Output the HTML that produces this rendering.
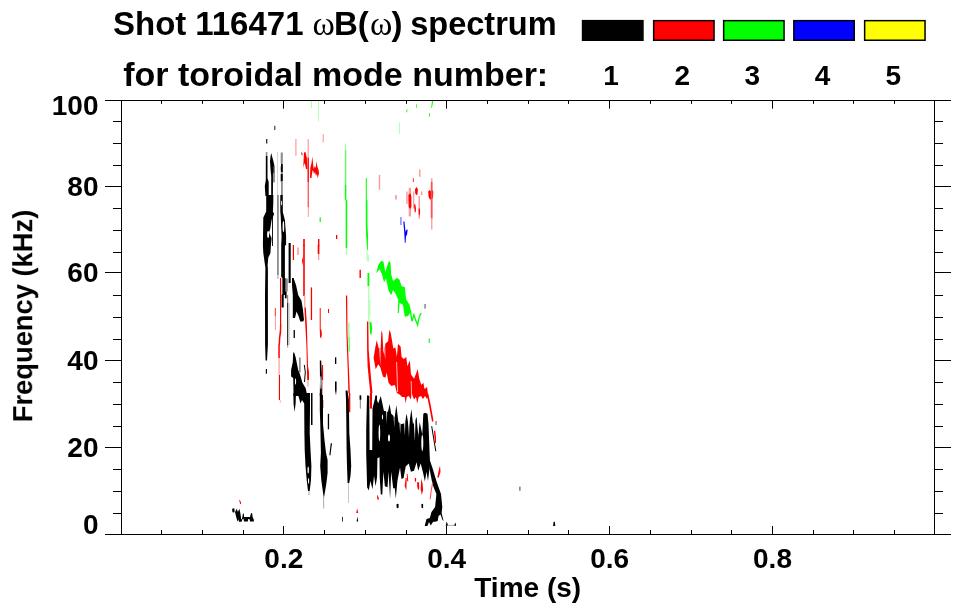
<!DOCTYPE html>
<html><head><meta charset="utf-8"><title>Shot 116471 spectrum</title>
<style>
html,body{margin:0;padding:0;background:#fff;}
body{width:963px;height:615px;overflow:hidden;font-family:"Liberation Sans",sans-serif;}
svg{display:block;}
text{font-family:"Liberation Sans",sans-serif;font-weight:bold;fill:#000;}
.sym{font-family:"Liberation Serif",serif;font-weight:normal;}
.ax{stroke:#000;stroke-width:1;fill:none;}
</style></head><body>
<svg width="963" height="615" viewBox="0 0 963 615">
<rect x="0" y="0" width="963" height="615" fill="#fff"/>
<g id="data">
<rect fill="#000" x="274.4" y="125.8" width="0.9" height="4.2"/>
<rect fill="#000" x="266.2" y="139.0" width="1.1" height="4.5"/>
<rect fill="#8c8c8c" x="265.8" y="152.1" width="1.6" height="3.9"/>
<polygon fill="#000" points="265.8,156.0 267.5,156.0 267.5,178.0 268.7,182.0 268.7,196.0 265.4,196.0 264.8,186.0 265.8,180.0"/>
<polygon fill="#000" points="271.2,152.9 272.0,156.0 273.6,162.0 274.5,166.6 274.6,173.0 273.0,178.0 272.9,196.0 271.2,196.0 271.2,176.0 270.6,170.0 270.0,161.6 270.6,156.0"/>
<rect fill="#8c8c8c" x="272.9" y="166.6" width="2.0" height="15.8"/>
<rect fill="#000" x="272.0" y="166.6" width="1.6" height="6.4"/>
<polygon fill="#000" points="266.2,195.0 273.3,195.0 273.3,203.3 272.9,211.6 274.1,214.1 271.6,220.0 270.4,228.2 269.1,232.4 271.6,238.2 270.9,245.0 270.4,253.3 268.3,257.5 267.6,265.8 267.9,268.3 267.9,345.0 267.0,360.4 265.6,360.4 265.1,345.0 265.0,295.0 265.4,268.0 263.3,253.0 262.9,245.0 263.3,217.4 266.2,211.6"/>
<ellipse fill="#fff" cx="268.1" cy="234.5" rx="1.0" ry="3.4"/>
<rect fill="#000" x="272.0" y="211.6" width="0.9" height="34.4"/>
<rect fill="#000" x="265.8" y="369.0" width="1.2" height="4.7"/>
<rect fill="#c4c4c4" x="277.0" y="152.1" width="0.7" height="42.9"/>
<rect fill="#8c8c8c" x="277.0" y="195.0" width="1.8" height="80.0"/>
<rect fill="#c4c4c4" x="277.0" y="275.0" width="1.6" height="4.0"/>
<rect fill="#8c8c8c" x="280.7" y="152.5" width="2.1" height="10.8"/>
<polygon fill="#000" points="281.2,163.3 282.8,164.0 282.8,172.4 281.0,172.4 280.7,168.0"/>
<rect fill="#8c8c8c" x="280.9" y="172.4" width="1.7" height="1.6"/>
<rect fill="#000" x="280.7" y="174.0" width="2.1" height="7.5"/>
<rect fill="#8c8c8c" x="281.0" y="181.5" width="1.8" height="14.0"/>
<polygon fill="#000" points="280.3,195.0 282.8,195.0 282.8,212.0 284.9,220.0 286.1,236.0 286.1,245.0 284.9,245.5 284.9,278.0 286.6,279.0 286.6,295.0 283.7,295.0 283.7,307.5 281.6,307.5 281.6,295.0 282.4,294.0 282.4,278.0 281.2,277.0 281.2,245.0 281.6,236.5 280.7,216.0 280.3,211.6"/>
<ellipse fill="#fff" cx="283.4" cy="226.5" rx="0.8" ry="5.5"/>
<ellipse fill="#fff" cx="281.6" cy="203.0" rx="0.5" ry="2.5"/>
<rect fill="#8c8c8c" x="285.3" y="278.5" width="2.5" height="13.0"/>
<rect fill="#000" x="284.9" y="295.0" width="1.7" height="3.3"/>
<rect fill="#000" x="288.6" y="243.0" width="2.1" height="40.0"/>
<polygon fill="#000" points="292.0,278.0 293.6,278.0 296.0,285.0 298.2,295.0 301.5,300.8 303.0,310.0 304.0,320.0 303.0,321.6 300.3,321.6 298.5,316.0 296.5,311.6 295.5,316.0 294.9,318.0 292.8,318.0 292.8,295.0 292.0,285.0"/>
<rect fill="#333" x="287.0" y="303.0" width="1.2" height="42.0"/>
<rect fill="#8c8c8c" x="287.0" y="295.0" width="1.2" height="8.0"/>
<rect fill="#c4c4c4" x="288.2" y="303.0" width="1.4" height="42.0"/>
<rect fill="#000" x="293.6" y="330.0" width="1.3" height="8.0"/>
<rect fill="#8c8c8c" x="287.2" y="345.0" width="1.0" height="2.5"/>
<polygon fill="#000" points="293.2,352.5 294.2,352.5 295.7,357.5 298.2,370.0 299.9,374.0 302.3,382.4 305.7,388.2 307.3,396.0 293.6,396.0 293.2,378.0 291.1,376.5 291.1,370.0 292.8,362.0"/>
<rect fill="#8c8c8c" x="299.0" y="357.5" width="1.7" height="14.9"/>
<polyline fill="none" stroke="#000" stroke-width="1.0" points="304.3,365.0 305.3,372.0 304.5,382.0"/>
<ellipse fill="#fff" cx="295.5" cy="381.5" rx="0.6" ry="3.3"/>
<polygon fill="#000" points="319.8,360.4 321.2,360.4 321.9,375.0 321.9,396.0 319.8,396.0 320.0,380.0"/>
<ellipse fill="#fff" cx="320.9" cy="382.5" rx="0.6" ry="7.0"/>
<polygon fill="#000" points="293.3,393.0 296.0,393.0 295.6,404.0 294.5,412.0 293.6,404.0"/>
<polygon fill="#000" points="297.5,393.0 310.0,393.0 310.0,410.0 309.7,433.0 310.5,450.0 311.4,466.0 311.0,480.0 309.7,491.0 308.0,491.0 306.7,480.0 305.5,466.0 304.7,450.0 304.4,433.0 304.2,403.4 302.0,400.0 300.5,403.4 299.0,398.0"/>
<rect fill="#000" x="311.0" y="393.0" width="1.5" height="32.0"/>
<ellipse fill="#fff" cx="308.2" cy="470.0" rx="0.7" ry="3.5"/>
<ellipse fill="#fff" cx="308.6" cy="481.0" rx="0.6" ry="3.0"/>
<rect fill="#8c8c8c" x="308.6" y="491.0" width="0.8" height="4.0"/>
<polygon fill="#000" points="319.8,393.0 323.0,393.0 323.0,424.0 324.5,440.0 326.0,453.0 327.6,460.0 327.6,473.0 326.3,484.0 324.6,494.0 323.9,498.0 323.2,494.0 321.3,480.0 320.2,466.0 320.9,453.0 320.3,424.0 319.8,410.0"/>
<rect fill="#000" x="327.8" y="413.8" width="1.3" height="15.5"/>
<rect fill="#8c8c8c" x="323.4" y="497.0" width="0.7" height="11.5"/>
<polygon fill="#000" points="330.8,443.0 332.0,443.5 330.4,455.6 329.3,455.0"/>
<polygon fill="#000" points="345.6,390.5 347.5,390.5 348.9,400.0 349.3,433.0 350.5,450.0 351.2,466.0 350.5,476.0 349.2,483.0 347.6,483.0 347.0,466.0 346.6,450.0 346.3,420.0 346.0,400.0"/>
<rect fill="#c4c4c4" x="348.0" y="483.0" width="1.0" height="20.0"/>
<rect fill="#f00" x="348.9" y="393.0" width="1.4" height="19.2"/>
<rect fill="#8c8c8c" x="359.8" y="395.0" width="1.1" height="13.6"/>
<rect fill="#f00" x="369.9" y="393.0" width="2.1" height="15.6"/>
<polygon fill="#000" points="367.0,396.0 369.3,396.0 369.6,450.0 372.2,450.0 372.5,408.6 375.6,396.1 378.2,403.4 380.8,396.1 383.9,410.7 388.0,411.7 389.6,403.9 391.2,413.8 394.8,416.9 396.3,404.9 398.4,422.1 401.5,424.2 404.7,423.1 406.7,413.8 408.8,427.3 411.4,409.1 413.0,424.2 416.6,416.9 418.2,434.5 419.7,422.1 422.3,434.5 423.3,413.8 424.9,412.7 427.5,413.8 428.5,424.2 429.6,453.0 430.1,463.4 428.0,481.0 426.5,471.7 424.9,481.6 423.3,473.8 420.7,463.4 418.2,470.7 416.6,462.3 414.0,470.7 410.9,471.7 408.8,463.4 405.7,466.5 403.6,477.9 401.5,479.0 400.0,467.5 397.4,481.0 395.8,498.7 394.8,488.3 393.2,488.3 391.2,471.7 390.1,498.7 389.4,487.3 388.6,471.7 387.5,487.3 384.9,486.2 383.4,471.7 382.3,494.5 380.8,494.5 379.7,476.9 379.5,457.2 377.4,458.2 377.1,476.9 375.6,486.2 374.0,475.8 372.5,489.3 370.4,481.0 368.8,490.4 367.1,487.3 366.2,453.0 366.2,430.0"/>
<ellipse fill="#fff" cx="379.4" cy="433.0" rx="0.8" ry="8.5"/>
<ellipse fill="#fff" cx="389.0" cy="438.0" rx="1.0" ry="3.6"/>
<ellipse fill="#fff" cx="422.3" cy="443.0" rx="1.0" ry="8.3"/>
<ellipse fill="#fff" cx="382.5" cy="417.0" rx="0.6" ry="2.5"/>
<polygon fill="#fff" points="399.0,414.3 400.9,414.3 400.2,433.8"/>
<polygon fill="#fff" points="403.8,418.2 405.4,418.2 404.9,435.8"/>
<polygon fill="#fff" points="407.7,414.3 409.7,414.3 409.0,437.7"/>
<polygon fill="#fff" points="413.6,418.2 415.5,418.2 414.9,441.6"/>
<polygon fill="#fff" points="417.1,414.3 419.1,414.3 418.4,437.7"/>
<polygon fill="#fff" points="393.3,412.0 394.6,412.0 394.3,428.0"/>
<polygon fill="#fff" points="386.0,408.0 387.2,408.0 386.9,424.0"/>
<polygon fill="#000" points="430.1,461.0 432.5,468.0 436.4,481.0 441.0,494.0 442.3,507.0 441.6,513.0 443.6,521.0 442.5,520.0 440.5,514.5 438.5,516.0 437.7,521.0 436.0,521.5 433.0,522.0 430.7,525.5 429.0,522.0 427.4,525.9 424.7,525.9 426.5,519.0 429.8,518.0 431.5,512.0 435.1,507.0 436.4,494.0 433.5,487.0 431.9,481.0 429.3,468.0 429.0,462.0"/>
<polyline fill="none" stroke="#000" stroke-width="1.0" points="431.7,426.2 433.6,438.0 435.8,451.2"/>
<rect fill="#8c8c8c" x="435.3" y="421.0" width="1.5" height="4.0"/>
<polygon fill="#000" points="445.6,525.7 446.8,521.5 448.1,525.7"/>
<polygon fill="#000" points="453.9,525.7 455.6,522.4 456.1,525.7"/>
<rect fill="#8c8c8c" x="447.3" y="524.9" width="7.0" height="0.7"/>
<rect fill="#000" x="396.6" y="504.1" width="1.7" height="3.3"/>
<rect fill="#000" x="421.5" y="504.1" width="1.3" height="3.3"/>
<rect fill="#000" x="396.9" y="503.9" width="1.5" height="4.2"/>
<rect fill="#000" x="421.8" y="503.9" width="1.3" height="4.2"/>
<polygon fill="#000" points="553.1,526.0 553.6,521.8 554.8,521.8 555.3,526.0"/>
<rect fill="#8c8c8c" x="519.0" y="486.6" width="1.7" height="4.2"/>
<polygon fill="#000" points="232.1,508.7 234.3,508.3 234.6,511.2 234.0,512.7 232.4,511.9"/>
<polygon fill="#000" points="235.0,511.9 236.8,508.7 237.9,511.9 239.4,508.7 240.5,514.1 241.2,519.3 241.9,519.3 243.0,513.4 243.8,513.4 244.1,517.1 250.0,517.1 251.1,513.0 252.2,513.4 252.6,517.1 253.7,519.3 254.0,521.5 250.0,521.5 249.6,519.3 248.2,518.9 247.8,521.5 244.1,521.5 243.4,518.5 242.3,519.6 241.6,521.8 239.0,521.8 238.3,519.3 237.6,521.8 236.8,519.3 235.7,514.9"/>
<polygon fill="#f00" points="239.2,499.9 239.9,500.0 241.1,502.8 240.8,504.3 240.1,503.9"/>
<polygon fill="#f00" points="356.2,512.9 357.2,508.2 358.2,512.9"/>
<polygon fill="#000" points="356.6,521.5 357.4,516.6 358.2,521.5"/>
<rect fill="#000" x="342.1" y="516.9" width="0.8" height="4.7"/>
<polygon fill="#ff5050" points="377.0,495.0 378.2,495.8 379.2,499.9 377.8,499.1"/>
<rect fill="#000" x="335.0" y="357.3" width="1.3" height="6.6"/>
<polygon fill="#000" points="335.0,381.4 336.6,381.4 336.6,389.7 336.0,395.5 335.0,389.7"/>
<rect fill="#000" x="311.0" y="393.0" width="0.8" height="6.6"/>
<rect fill="#000" x="359.6" y="395.5" width="1.7" height="4.2"/>
<rect fill="#000" x="367.0" y="395.5" width="1.7" height="4.2"/>
<rect fill="#000" x="375.3" y="395.5" width="1.7" height="4.2"/>
<rect fill="#ff9a9a" x="295.3" y="139.0" width="1.2" height="16.8"/>
<rect fill="#ff9a9a" x="322.7" y="134.0" width="1.1" height="8.4"/>
<rect fill="#ff9a9a" x="307.6" y="139.0" width="1.2" height="18.5"/>
<rect fill="#f00" x="307.5" y="157.5" width="1.4" height="24.5"/>
<rect fill="#ff5050" x="307.6" y="182.0" width="1.3" height="25.5"/>
<rect fill="#ff9a9a" x="307.8" y="207.5" width="1.0" height="9.5"/>
<polygon fill="#f00" points="301.1,152.0 302.3,153.0 302.6,155.5 301.6,155.0"/>
<polygon fill="#f00" points="304.0,152.5 305.5,152.0 306.9,158.0 307.5,169.0 306.0,169.0 304.8,163.0 303.6,166.0 303.2,168.5 303.6,160.0"/>
<polygon fill="#f00" points="310.0,178.0 310.3,168.0 311.5,163.0 312.3,156.6 313.0,163.0 313.6,169.0 314.8,166.0 315.8,168.0 316.5,160.8 317.2,166.0 318.6,170.0 319.0,173.0 317.8,178.2 316.9,174.0 316.0,176.0 315.0,172.0 314.0,174.0 313.0,170.0 312.2,172.0 311.5,178.0"/>
<rect fill="#ff9a9a" x="378.8" y="174.8" width="1.4" height="14.9"/>
<rect fill="#ff9a9a" x="419.0" y="169.5" width="1.5" height="7.3"/>
<rect fill="#ff5050" x="412.8" y="178.3" width="1.2" height="3.7"/>
<rect fill="#ff9a9a" x="395.0" y="195.1" width="1.8" height="4.4"/>
<rect fill="#ff9a9a" x="406.2" y="191.5" width="1.5" height="12.4"/>
<rect fill="#ff9a9a" x="408.7" y="187.8" width="2.3" height="28.6"/>
<polygon fill="#f00" points="408.4,195.1 410.2,192.9 411.4,196.6 411.4,206.9 410.2,209.0 408.7,206.9"/>
<rect fill="#ff9a9a" x="413.1" y="191.5" width="1.2" height="16.8"/>
<polygon fill="#f00" points="415.0,189.3 416.5,187.1 417.9,189.3 417.5,194.4 416.0,195.1 415.2,192.9"/>
<polygon fill="#f00" points="414.0,204.7 415.2,203.9 416.0,208.3 415.7,212.7 414.6,211.2"/>
<rect fill="#ff9a9a" x="418.5" y="195.9" width="1.5" height="22.7"/>
<polygon fill="#f00" points="418.5,209.0 419.6,208.0 420.1,211.2 419.8,215.6 418.8,214.5"/>
<rect fill="#ff9a9a" x="420.9" y="191.5" width="1.5" height="3.7"/>
<polygon fill="#f00" points="428.2,191.5 429.7,190.0 431.1,191.5 432.1,190.0 433.3,191.5 433.0,198.1 431.6,199.2 429.8,199.5 428.6,196.6"/>
<rect fill="#ff5050" x="430.8" y="182.0" width="1.8" height="36.6"/>
<rect fill="#ff9a9a" x="431.0" y="178.3" width="1.5" height="3.7"/>
<rect fill="#ff9a9a" x="431.1" y="218.6" width="1.3" height="11.0"/>
<rect fill="#f00" x="303.2" y="239.0" width="1.6" height="7.0"/>
<rect fill="#f00" x="318.0" y="239.0" width="1.4" height="7.0"/>
<rect fill="#f00" x="292.8" y="245.0" width="1.2" height="15.0"/>
<rect fill="#ff9a9a" x="297.2" y="247.5" width="1.6" height="7.5"/>
<rect fill="#f00" x="303.2" y="245.0" width="1.6" height="51.0"/>
<polygon fill="#f00" points="303.2,255.8 301.9,261.0 303.2,265.8"/>
<rect fill="#f00" x="317.7" y="245.0" width="1.7" height="9.0"/>
<rect fill="#ff9a9a" x="318.0" y="254.0" width="1.3" height="6.0"/>
<rect fill="#f00" x="310.8" y="287.4" width="1.3" height="32.6"/>
<rect fill="#f00" x="280.0" y="278.0" width="1.2" height="46.0"/>
<polygon fill="#f00" points="280.0,324.0 281.4,324.0 281.2,332.0 280.4,338.0 280.0,345.0 278.5,345.0 278.9,338.0 279.8,330.0"/>
<rect fill="#ff5050" x="274.8" y="308.0" width="1.2" height="8.0"/>
<rect fill="#ff9a9a" x="274.9" y="316.0" width="1.0" height="14.0"/>
<rect fill="#ff9a9a" x="304.2" y="295.0" width="1.1" height="12.5"/>
<polygon fill="#f00" points="304.4,307.5 305.8,307.5 306.9,325.0 307.4,345.0 308.0,366.0 309.0,372.0 309.0,380.0 307.2,380.0 306.9,366.0 306.4,345.0 305.3,325.0"/>
<rect fill="#ff9a9a" x="307.4" y="380.0" width="1.2" height="6.5"/>
<rect fill="#ff5050" x="319.6" y="308.0" width="1.4" height="22.0"/>
<polygon fill="#f00" points="319.8,330.0 321.2,329.0 321.9,334.0 321.2,338.6 320.0,337.0"/>
<rect fill="#f00" x="328.0" y="309.0" width="1.0" height="4.0"/>
<rect fill="#f00" x="278.3" y="345.0" width="1.5" height="13.0"/>
<rect fill="#ff9a9a" x="278.5" y="358.0" width="1.2" height="17.0"/>
<rect fill="#f00" x="278.9" y="375.0" width="1.1" height="25.0"/>
<rect fill="#ff9a9a" x="279.8" y="400.0" width="0.8" height="3.0"/>
<rect fill="#f00" x="321.9" y="365.0" width="1.2" height="15.0"/>
<rect fill="#ff9a9a" x="322.0" y="380.0" width="1.0" height="15.0"/>
<rect fill="#ff9a9a" x="323.0" y="400.0" width="0.8" height="8.0"/>
<rect fill="#f00" x="336.0" y="235.0" width="1.3" height="4.0"/>
<rect fill="#f00" x="359.5" y="269.8" width="1.4" height="8.2"/>
<polygon fill="#f00" points="345.9,295.5 347.2,295.5 347.5,333.0 348.8,366.0 349.9,393.0 348.4,393.0 347.6,366.0 346.4,333.0"/>
<polygon fill="#f00" points="367.0,321.6 368.3,321.6 368.7,350.0 370.0,366.0 371.2,379.7 372.5,393.0 370.3,393.0 368.9,379.7 367.6,366.0 367.1,350.0"/>
<polygon fill="#f00" points="373.6,357.9 375.1,348.6 376.7,340.3 378.8,348.6 380.6,348.6 381.4,330.4 382.4,333.0 383.4,353.8 385.5,343.4 388.1,341.3 389.4,329.8 390.7,333.0 391.7,338.7 393.3,348.6 395.4,347.5 396.9,356.9 398.0,343.9 400.6,346.5 401.6,356.9 403.7,359.0 406.3,356.9 407.3,366.2 409.9,360.5 411.0,374.5 414.1,378.7 417.7,369.3 419.3,378.7 421.3,384.9 423.4,382.8 424.5,389.1 427.1,387.0 427.8,393.0 428.5,396.0 427.0,399.0 425.0,396.0 423.0,399.0 421.0,396.0 418.7,397.0 417.3,403.4 416.0,397.0 414.0,399.5 412.0,394.0 410.5,399.5 409.0,396.0 406.7,397.0 405.7,403.4 404.7,397.0 402.0,397.0 399.9,394.7 396.9,393.0 394.9,384.9 391.2,386.0 388.6,382.8 386.6,372.5 385.5,377.7 382.9,376.6 380.3,367.3 378.2,364.2 375.7,369.3"/>
<polyline fill="none" stroke="#fff" stroke-width="0.7" points="396.6,362.0 397.2,378.0 397.6,392.0"/>
<polyline fill="none" stroke="#fff" stroke-width="0.7" points="411.2,381.0 411.6,396.0"/>
<polygon fill="#fff" points="379.3,348.8 380.5,348.8 380.3,366.5"/>
<polygon fill="#fff" points="384.3,352.0 385.2,345.0 385.3,360.0"/>
<polygon fill="#f00" points="426.5,393.0 428.0,393.0 430.5,404.0 433.2,419.0 433.4,421.6 432.0,421.6 429.5,408.0"/>
<polygon fill="#f00" points="434.0,430.7 435.2,430.7 436.0,437.0 436.0,443.0 434.8,443.0"/>
<polygon fill="#f00" points="440.0,465.5 440.5,472.0 438.5,478.0 437.4,477.0 438.6,471.0"/>
<polygon fill="#f00" points="406.7,473.8 407.6,474.0 408.3,482.0 407.2,481.0"/>
<polygon fill="#f00" points="405.7,478.0 406.7,478.0 406.3,490.4 404.7,486.0"/>
<rect fill="#f00" x="414.8" y="478.0" width="1.3" height="3.6"/>
<polygon fill="#f00" points="417.1,482.0 419.0,482.5 419.2,488.0 418.2,490.4 417.3,487.0"/>
<polygon fill="#f00" points="421.3,478.4 422.6,484.0 423.1,490.0 421.8,495.0 420.7,489.0"/>
<polyline fill="none" stroke="#ff5050" stroke-width="1.1" points="432.7,482.6 431.3,490.0 430.1,499.2"/>
<polygon fill="#f00" points="377.1,495.0 378.0,497.0 378.7,499.7 377.3,499.3"/>
<rect fill="#a8ffa8" x="311.0" y="100.5" width="0.9" height="7.8"/>
<rect fill="#a8ffa8" x="318.2" y="100.5" width="0.8" height="21.1"/>
<rect fill="#a8ffa8" x="345.0" y="143.5" width="1.2" height="6.5"/>
<rect fill="#60ff60" x="344.9" y="150.0" width="1.4" height="35.0"/>
<rect fill="#0f0" x="344.9" y="185.0" width="1.4" height="15.0"/>
<rect fill="#0f0" x="345.7" y="200.0" width="1.5" height="48.0"/>
<rect fill="#a8ffa8" x="345.9" y="248.0" width="1.1" height="7.0"/>
<rect fill="#0f0" x="365.8" y="178.0" width="1.0" height="22.0"/>
<polygon fill="#0f0" points="365.8,200.0 367.4,200.0 367.4,225.0 368.1,236.0 367.8,250.0 367.1,250.0 366.2,236.0 365.8,225.0"/>
<rect fill="#a8ffa8" x="366.6" y="250.0" width="1.0" height="10.5"/>
<rect fill="#0f0" x="319.6" y="217.3" width="1.2" height="4.7"/>
<rect fill="#a8ffa8" x="367.5" y="255.0" width="1.3" height="6.5"/>
<rect fill="#0f0" x="367.5" y="273.0" width="1.8" height="13.0"/>
<rect fill="#a8ffa8" x="368.2" y="286.0" width="1.2" height="36.0"/>
<polygon fill="#0f0" points="369.5,321.6 371.5,322.4 372.2,329.0 371.2,335.7 369.9,333.0"/>
<rect fill="#a8ffa8" x="369.2" y="300.0" width="1.1" height="16.6"/>
<rect fill="#a8ffa8" x="347.9" y="322.4" width="1.7" height="14.6"/>
<rect fill="#60ff60" x="348.5" y="337.0" width="1.4" height="14.5"/>
<rect fill="#a8ffa8" x="399.1" y="122.4" width="0.8" height="11.6"/>
<polygon fill="#0f0" points="406.1,112.5 406.6,110.0 407.6,109.1 407.1,112.0"/>
<rect fill="#0f0" x="416.2" y="104.2" width="0.7" height="3.8"/>
<rect fill="#0f0" x="429.0" y="113.0" width="0.8" height="3.7"/>
<polygon fill="#0f0" points="431.2,108.0 431.8,102.5 432.8,100.0 433.5,100.0 432.5,105.0 431.8,108.0"/>
<polygon fill="#0f0" points="376.2,273.2 378.2,265.4 380.8,260.9 383.4,261.5 385.3,271.9 388.2,262.8 389.2,260.9 390.5,262.8 391.2,274.5 393.1,281.0 397.0,277.8 399.6,279.7 401.6,286.2 404.8,286.9 406.1,299.2 409.4,304.4 411.3,312.2 410.0,313.0 408.1,316.1 404.8,316.8 402.9,304.4 399.6,303.1 398.8,312.9 397.7,312.9 398.3,299.9 395.7,294.0 393.1,290.1 391.2,295.3 388.6,290.8 386.0,278.4 384.0,282.3 382.1,274.5 379.5,269.3"/>
<polyline fill="none" stroke="#0f0" stroke-width="1.3" points="410.5,312.2 412.0,321.3 413.9,314.8 415.2,318.7 417.6,325.2 419.1,317.4 421.1,312.9"/>
<rect fill="#0f0" x="428.7" y="338.5" width="1.1" height="4.5"/>
<rect fill="#8c8c8c" x="424.3" y="304.0" width="1.6" height="4.6"/>
<rect fill="#9a9aff" x="400.0" y="217.0" width="1.8" height="8.0"/>
<polygon fill="#00f" points="403.3,221.5 404.5,221.5 405.5,232.0 406.2,230.0 407.7,229.5 407.0,235.0 406.0,236.0 405.6,242.7 404.8,242.7 404.2,232.0"/>
</g>
<g opacity="0.999">
<path class="ax" d="M105 100.5H951M105 534.5H951M121.5 100.5V534.5M934.5 100.5V534.5M161.50 534.5v-4.5M161.50 100.5v3.4M202.50 534.5v-4.5M202.50 100.5v3.4M243.50 534.5v-4.5M243.50 100.5v3.4M283.50 534.5v-8.5M283.50 100.5v8.2M324.50 534.5v-4.5M324.50 100.5v3.4M365.50 534.5v-4.5M365.50 100.5v3.4M406.50 534.5v-4.5M406.50 100.5v3.4M446.50 534.5v-8.5M446.50 100.5v8.2M487.50 534.5v-4.5M487.50 100.5v3.4M528.50 534.5v-4.5M528.50 100.5v3.4M568.50 534.5v-4.5M568.50 100.5v3.4M609.50 534.5v-8.5M609.50 100.5v8.2M650.50 534.5v-4.5M650.50 100.5v3.4M691.50 534.5v-4.5M691.50 100.5v3.4M731.50 534.5v-4.5M731.50 100.5v3.4M772.50 534.5v-8.5M772.50 100.5v8.2M813.50 534.5v-4.5M813.50 100.5v3.4M853.50 534.5v-4.5M853.50 100.5v3.4M894.50 534.5v-4.5M894.50 100.5v3.4M121.5 513.50h-8.5M934.5 513.50h8.5M121.5 491.50h-8.5M934.5 491.50h8.5M121.5 469.50h-8.5M934.5 469.50h8.5M121.5 447.50h-16.5M934.5 447.50h16.5M121.5 426.50h-8.5M934.5 426.50h8.5M121.5 404.50h-8.5M934.5 404.50h8.5M121.5 382.50h-8.5M934.5 382.50h8.5M121.5 360.50h-16.5M934.5 360.50h16.5M121.5 339.50h-8.5M934.5 339.50h8.5M121.5 317.50h-8.5M934.5 317.50h8.5M121.5 295.50h-8.5M934.5 295.50h8.5M121.5 272.50h-16.5M934.5 272.50h16.5M121.5 252.50h-8.5M934.5 252.50h8.5M121.5 230.50h-8.5M934.5 230.50h8.5M121.5 208.50h-8.5M934.5 208.50h8.5M121.5 186.50h-16.5M934.5 186.50h16.5M121.5 165.50h-8.5M934.5 165.50h8.5M121.5 143.50h-8.5M934.5 143.50h8.5M121.5 121.50h-8.5M934.5 121.50h8.5"/>
<text x="113" y="34.9" font-size="33">Shot</text>
<text x="195.2" y="34.9" font-size="33">116471</text>
<text x="312.6" y="34.9" font-size="34" class="sym">ω</text>
<text x="334" y="34.9" font-size="33">B(</text>
<text x="370" y="34.9" font-size="34" class="sym">ω</text>
<text x="391.5" y="34.9" font-size="33">)</text>
<text x="410.2" y="34.9" font-size="33" textLength="146.5" lengthAdjust="spacingAndGlyphs">spectrum</text>
<text x="123.2" y="85.7" font-size="34">for toroidal mode number:</text>
<rect x="582.55" y="20.65" width="60.4" height="19.6" fill="#000000" stroke="#000" stroke-width="1.5"/>
<text x="611.1" y="85" font-size="28" text-anchor="middle">1</text>
<rect x="653.65" y="20.65" width="60.4" height="19.6" fill="#ff0000" stroke="#000" stroke-width="1.5"/>
<text x="682.2" y="85" font-size="28" text-anchor="middle">2</text>
<rect x="723.65" y="20.65" width="60.4" height="19.6" fill="#00ff00" stroke="#000" stroke-width="1.5"/>
<text x="752.2" y="85" font-size="28" text-anchor="middle">3</text>
<rect x="793.85" y="20.65" width="60.4" height="19.6" fill="#0000ff" stroke="#000" stroke-width="1.5"/>
<text x="822.5" y="85" font-size="28" text-anchor="middle">4</text>
<rect x="864.65" y="20.65" width="60.4" height="19.6" fill="#ffff00" stroke="#000" stroke-width="1.5"/>
<text x="893.2" y="85" font-size="28" text-anchor="middle">5</text>
<text x="98.5" y="534.2" font-size="28" text-anchor="end">0</text>
<text x="98.5" y="456.5" font-size="28" text-anchor="end">20</text>
<text x="98.5" y="369.5" font-size="28" text-anchor="end">40</text>
<text x="98.5" y="281.5" font-size="28" text-anchor="end">60</text>
<text x="98.5" y="195.5" font-size="28" text-anchor="end">80</text>
<text x="98.5" y="115.0" font-size="28" text-anchor="end">100</text>
<text x="283.8" y="568.1" font-size="28" text-anchor="middle">0.2</text>
<text x="446.7" y="568.1" font-size="28" text-anchor="middle">0.4</text>
<text x="609.6" y="568.1" font-size="28" text-anchor="middle">0.6</text>
<text x="772.5" y="568.1" font-size="28" text-anchor="middle">0.8</text>
<text x="527.7" y="596.7" font-size="28" text-anchor="middle">Time (s)</text>
<text transform="translate(32.2 316) rotate(-90)" font-size="28" text-anchor="middle" textLength="212.5" lengthAdjust="spacingAndGlyphs">Frequency (kHz)</text>
</g>
</svg>
</body></html>
